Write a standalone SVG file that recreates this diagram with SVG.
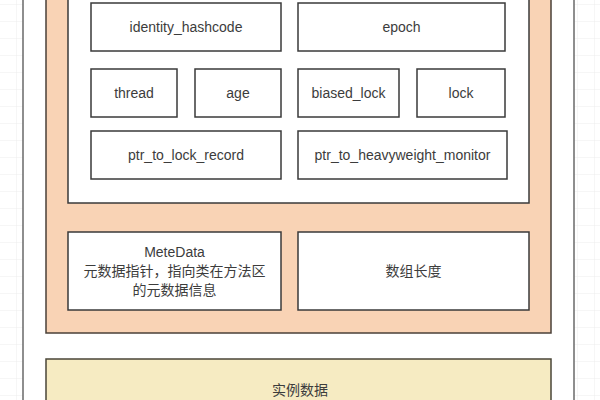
<svg xmlns="http://www.w3.org/2000/svg" width="600" height="400" viewBox="0 0 600 400">
  <defs>
    <pattern id="grid" width="17" height="17" patternUnits="userSpaceOnUse" x="0" y="5">
      <path d="M17 0V17M0 17H17" fill="none" stroke="#ececec" stroke-width="1"/>
    </pattern>
  </defs>
  <style>
    .box { fill: #ffffff; stroke: #3a3a3a; stroke-width: 1.5; }
    .orange { fill: #f9d3b5; stroke: #4a4038; stroke-width: 1.5; }
    .yellow { fill: #f6ebc2; stroke: #4a4638; stroke-width: 1.5; }
    .frame { fill: #ffffff; stroke: #6a6a6a; stroke-width: 1.5; }
    text { font-family: "Liberation Sans", Arial, "Noto Sans CJK SC", sans-serif; font-size: 14px; fill: #3c3c3c; text-anchor: middle; dominant-baseline: central; }
  </style>
  <rect width="600" height="400" fill="#ffffff"/>
  <rect width="600" height="400" fill="url(#grid)"/>
  <rect class="frame" x="23" y="-10" width="551" height="420"/>
  <g id="object-header">
    <rect class="orange" x="46" y="-10" width="505" height="343"/>
  </g>
  <g id="mark-word">
    <rect class="box" x="68" y="-10" width="461" height="213"/>
  </g>
  <g id="identity_hashcode"><rect class="box" x="91" y="3" width="190" height="48"/><text x="186" y="27">identity_hashcode</text></g>
  <g id="epoch"><rect class="box" x="298" y="3" width="207" height="48"/><text x="401.5" y="27">epoch</text></g>
  <g id="thread"><rect class="box" x="91" y="69" width="86" height="48"/><text x="134" y="93">thread</text></g>
  <g id="age"><rect class="box" x="195" y="69" width="86" height="48"/><text x="238" y="93">age</text></g>
  <g id="biased_lock"><rect class="box" x="298" y="69" width="101" height="48"/><text x="348.5" y="93">biased_lock</text></g>
  <g id="lock"><rect class="box" x="417" y="69" width="88" height="48"/><text x="461" y="93">lock</text></g>
  <g id="ptr_to_lock_record"><rect class="box" x="91" y="131" width="190" height="48"/><text x="186" y="155">ptr_to_lock_record</text></g>
  <g id="ptr_to_heavyweight_monitor"><rect class="box" x="298" y="131" width="209" height="48"/><text x="402.5" y="155">ptr_to_heavyweight_monitor</text></g>
  <g id="metedata"><rect class="box" x="68" y="232" width="213" height="78"/>
    <text x="174.5" y="252">MeteData</text>
    <text x="174.5" y="271">元数据指针，指向类在方法区</text>
    <text x="174.5" y="290">的元数据信息</text>
  </g>
  <g id="array-length"><rect class="box" x="298" y="232" width="231" height="78"/><text x="413.5" y="271">数组长度</text></g>
  <g id="instance-data"><rect class="yellow" x="46" y="359" width="505" height="60"/><text x="300" y="390">实例数据</text></g>
  <g id="connectors"/>
</svg>
